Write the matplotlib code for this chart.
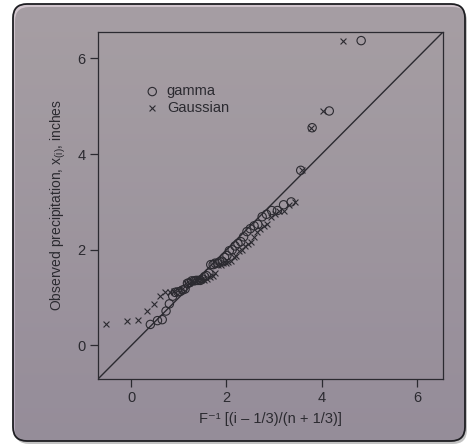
import matplotlib.pyplot as plt
import numpy as np
from matplotlib.patches import FancyBboxPatch

# observed January precipitation, sorted (inches)
precip = [0.44, 0.52, 0.54, 0.72, 0.87, 1.03, 1.11, 1.12, 1.13, 1.16,
          1.18, 1.30, 1.31, 1.35, 1.35, 1.36, 1.36, 1.36, 1.39, 1.44,
          1.46, 1.51, 1.69, 1.69, 1.72, 1.72, 1.75, 1.76, 1.84, 1.88,
          1.98, 2.00, 2.08, 2.13, 2.17, 2.27, 2.38, 2.44, 2.50, 2.53,
          2.69, 2.74, 2.82, 2.82, 2.94, 3.00, 3.66, 4.55, 4.90, 6.37]

# fitted gamma quantiles
gamma_q = [0.40, 0.55, 0.65, 0.73, 0.80, 0.87, 0.92, 0.98, 1.03, 1.08,
           1.13, 1.18, 1.22, 1.27, 1.32, 1.36, 1.40, 1.45, 1.49, 1.54,
           1.58, 1.63, 1.67, 1.72, 1.76, 1.81, 1.86, 1.91, 1.96, 2.01,
           2.06, 2.12, 2.18, 2.24, 2.30, 2.36, 2.43, 2.50, 2.58, 2.66,
           2.75, 2.84, 2.95, 3.07, 3.20, 3.36, 3.56, 3.80, 4.16, 4.83]

# fitted Gaussian quantiles
gauss_q = [-0.53, -0.10, 0.15, 0.33, 0.48, 0.60, 0.71, 0.81, 0.90, 0.99,
           1.06, 1.14, 1.21, 1.28, 1.35, 1.41, 1.47, 1.53, 1.59, 1.65,
           1.71, 1.76, 1.82, 1.88, 1.93, 1.99, 2.04, 2.10, 2.16, 2.21,
           2.27, 2.33, 2.39, 2.45, 2.51, 2.58, 2.64, 2.71, 2.78, 2.86,
           2.93, 3.02, 3.11, 3.21, 3.32, 3.44, 3.59, 3.77, 4.02, 4.45]

x_ticks = [0, 2, 4, 6]
y_ticks = [0, 2, 4, 6]

INK = '#2b2a30'
FONT = ['Liberation Sans', 'DejaVu Sans']

plt.rcParams['font.family'] = FONT
plt.rcParams['mathtext.fontset'] = 'custom'
plt.rcParams['mathtext.rm'] = 'Liberation Sans'
plt.rcParams['mathtext.it'] = 'Liberation Sans'

fig = plt.figure(figsize=(4.68, 4.46), dpi=100, facecolor='white')

# photo background: rounded paper card with a shadow
bg = fig.add_axes([0, 0, 1, 1], zorder=-1)
bg.set_xlim(0, 468)
bg.set_ylim(0, 446)
bg.axis('off')
shadow = FancyBboxPatch((15, 2), 452, 437, boxstyle='round,pad=0,rounding_size=14',
                        fc='#555555', ec='none', alpha=0.35)
bg.add_patch(shadow)
card = FancyBboxPatch((13, 5), 452, 437, boxstyle='round,pad=0,rounding_size=14',
                      fc='none', ec='#1e1e22', lw=1.3)
bg.add_patch(card)
grad = np.linspace(0, 1, 200).reshape(-1, 1)
top = np.array([210, 198, 206]) / 255
bot = np.array([184, 171, 190]) / 255
img = top[None, None, :] * (1 - grad[:, :, None]) + bot[None, None, :] * grad[:, :, None]
im = bg.imshow(img, extent=(13, 465, 5, 442), origin='upper', aspect='auto')
im.set_clip_path(card)

ax = fig.add_axes([98 / 468, 1 - 379 / 446, 345 / 468, 347 / 446])
ax.patch.set_alpha(0)

ax.axline((0, 0), slope=1, color=INK, lw=1.0)
ax.scatter(gamma_q, precip, s=36, facecolors='none', edgecolors=INK, linewidths=0.8,
           label='gamma', zorder=3)
ax.scatter(gauss_q, precip, s=18, marker='x', color=INK, linewidths=0.8,
           label='Gaussian', zorder=3)

ax.set_xlim(-0.70, 6.55)
ax.set_ylim(-0.70, 6.55)
ax.set_xticks(x_ticks)
ax.set_yticks(y_ticks)
for s in ax.spines.values():
    s.set_color(INK)
    s.set_linewidth(0.9)
ax.tick_params(direction='out', length=6, width=0.9, color=INK, labelcolor=INK,
               labelsize=10.5, pad=3)

ax.set_xlabel('F\u207b\u00b9 [(i \u2013 1/3)/(n + 1/3)]', fontsize=10.5, color=INK, labelpad=5)
ax.set_ylabel(r'Observed precipitation, $\mathregular{x_{(i)}}$, inches', fontsize=10,
              color=INK, labelpad=7)

ax.legend(loc='upper left', bbox_to_anchor=(0.115, 0.87), frameon=False, fontsize=10.5,
          handlelength=1.0, handletextpad=0.5, labelspacing=0.2, borderpad=0,
          labelcolor=INK)

fig.savefig('out.png', dpi=100, facecolor='white')
